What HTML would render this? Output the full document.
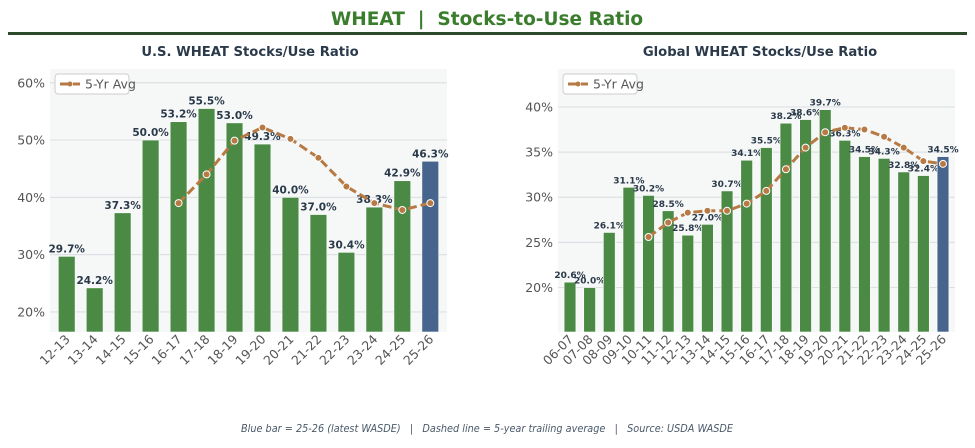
<!DOCTYPE html>
<html><head><meta charset="utf-8">
<style>
body{margin:0;background:#fff;width:975px;height:444px;overflow:hidden;font-family:"DejaVu Sans","Liberation Sans",sans-serif}
svg text{font-family:"DejaVu Sans","Liberation Sans",sans-serif;white-space:pre}
</style></head><body>
<svg id="root" width="975" height="444" viewBox="0 0 975 444" xmlns="http://www.w3.org/2000/svg" xml:space="preserve">
<text x="487" y="25" text-anchor="middle" font-size="18.5" font-weight="bold" fill="#3a7d2c">WHEAT  |  Stocks-to-Use Ratio</text>
<rect x="8" y="32" width="959" height="3" fill="#2d4a2b"/>
<text x="250" y="56" text-anchor="middle" font-size="13.2" font-weight="bold" fill="#2b3a4a">U.S. WHEAT Stocks/Use Ratio</text>
<text x="760" y="56" text-anchor="middle" font-size="13.2" font-weight="bold" fill="#2b3a4a">Global WHEAT Stocks/Use Ratio</text>
<text x="487" y="432" text-anchor="middle" font-size="10.8" font-style="italic" fill="#4a5a6a" textLength="492" lengthAdjust="spacingAndGlyphs">Blue bar = 25-26 (latest WASDE)   |   Dashed line = 5-year trailing average   |   Source: USDA WASDE</text>
<g id="us"></g>
<g id="gl"></g>
</svg>
<script>
const usCategories=["12-13","13-14","14-15","15-16","16-17","17-18","18-19","19-20","20-21","21-22","22-23","23-24","24-25","25-26"];
const usValues=[29.7,24.2,37.3,50.0,53.2,55.5,53.0,49.3,40.0,37.0,30.4,38.3,42.9,46.3];
const usAvg=[null,null,null,null,39.0,44.0,49.9,52.2,50.2,46.9,41.9,39.0,37.8,39.0];
const usTicks=[20,30,40,50,60];
const glCategories=["06-07","07-08","08-09","09-10","10-11","11-12","12-13","13-14","14-15","15-16","16-17","17-18","18-19","19-20","20-21","21-22","22-23","23-24","24-25","25-26"];
const glValues=[20.6,20.0,26.1,31.1,30.2,28.5,25.8,27.0,30.7,34.1,35.5,38.2,38.6,39.7,36.3,34.5,34.3,32.8,32.4,34.5];
const glAvg=[null,null,null,null,25.6,27.2,28.3,28.5,28.5,29.3,30.7,33.1,35.5,37.2,37.7,37.5,36.7,35.5,34.0,33.7];
const glTicks=[20,25,30,35,40];
const NS="http://www.w3.org/2000/svg";
function mk(parent,tag,attrs,text){const e=document.createElementNS(NS,tag);for(const k in attrs)e.setAttribute(k,attrs[k]);if(text!==undefined)e.textContent=text;parent.appendChild(e);return e;}
function draw(g,cfg,cats,vals,avg,ticks){
  const {x0,x1,y0,y1,vmin,vmax,lblSize,lblOff,pad}=cfg;
  const step=(x1-x0-2*pad)/(cats.length-1);
  const xs=i=>x0+pad+step*i;
  const ys=v=>y1-(v-vmin)/(vmax-vmin)*(y1-y0);
  const bg=mk(g,'rect',{x:x0,y:y0,width:x1-x0,height:y1-y0,fill:'#f6f8f8'});
  
  
  ticks.forEach(t=>{
    const l=mk(g,'line',{x1:x0,x2:x1,y1:ys(t),y2:ys(t),stroke:'#dde1e5','stroke-width':1.2});
    
    
    const tx=mk(g,'text',{x:x0-5,y:ys(t)+4.5,'text-anchor':'end','font-size':12.5,fill:'#555'},t+'%');
    
    
  });
  const bw=step*0.6;
  vals.forEach((v,i)=>{
    const last=i===vals.length-1;
    const r=mk(g,'rect',{x:xs(i)-bw/2,y:ys(v),width:bw,height:y1-ys(v),fill:last?'#46648c':'#4a8a45',stroke:'#fff','stroke-width':0.6});
    
    
    const t=mk(g,'text',{x:xs(i),y:ys(v)-lblOff,'text-anchor':'middle','font-size':lblSize,'font-weight':'bold',fill:'#2b3a4a'},v.toFixed(1)+'%');
    
    
    const c=mk(g,'text',{transform:`translate(${xs(i)+4},${y1+8}) rotate(-45)`,'text-anchor':'end','font-size':12.5,fill:'#555'},cats[i]);
    
    
  });
  const pts=[];avg.forEach((v,i)=>{if(v!==null)pts.push([xs(i),ys(v)]);});
  const p=mk(g,'polyline',{points:pts.map(q=>q.join(',')).join(' '),fill:'none',stroke:'#b87a45','stroke-width':3,'stroke-dasharray':'9,4','stroke-linejoin':'round'});
  
  
  pts.forEach(q=>{
    const c=mk(g,'circle',{cx:q[0],cy:q[1],r:3.5,fill:'#b87a45',stroke:'#fff','stroke-width':1});
    
    
  });
  const lg=mk(g,'g',{});
  
  
  mk(lg,'rect',{x:x0+5,y:y0+5,width:74,height:20,rx:3,fill:'#fff',stroke:'#ccc'});
  mk(lg,'line',{x1:x0+10,x2:x0+30,y1:y0+15,y2:y0+15,stroke:'#b87a45','stroke-width':3,'stroke-dasharray':'9,4'});
  mk(lg,'circle',{cx:x0+20,cy:y0+15,r:2.5,fill:'#b87a45'});
  const lt=mk(lg,'text',{x:x0+35,y:y0+19.5,'font-size':12.5,fill:'#555'},'5-Yr Avg');
  
  
}
draw(document.getElementById('us'),{x0:50,x1:447,y0:69,y1:332,vmin:16.5,vmax:62.4,lblSize:10.5,lblOff:4,pad:16.7},usCategories,usValues,usAvg,usTicks);
draw(document.getElementById('gl'),{x0:558,x1:955,y0:69,y1:332,vmin:15.08,vmax:44.2,lblSize:9,lblOff:4,pad:12},glCategories,glValues,glAvg,glTicks);
</script>
</body></html>
